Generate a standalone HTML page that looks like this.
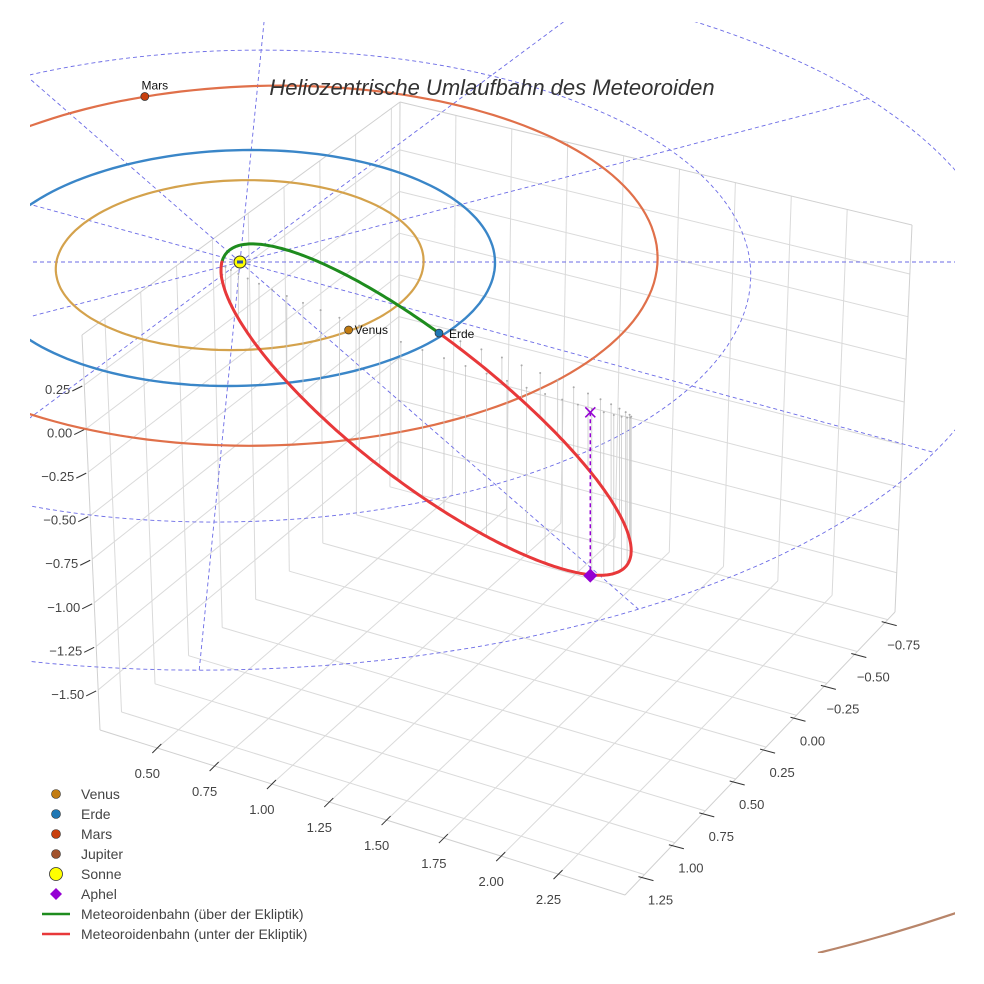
<!DOCTYPE html>
<html><head><meta charset="utf-8"><style>
html,body{margin:0;padding:0;background:#fff;}
svg{display:block;font-family:"Liberation Sans",sans-serif;}
</style></head><body>
<svg id="chart" width="984" height="984" viewBox="0 0 984 984">
<defs><clipPath id="clip"><rect x="30" y="22" width="925" height="931"/></clipPath></defs>
<g id="grid"></g>
<g id="axes"></g>
<g id="scene" clip-path="url(#clip)"></g>
<text x="492" y="95" text-anchor="middle" font-size="22" font-style="italic" fill="#333">Heliozentrische Umlaufbahn des Meteoroiden</text>
<g id="legend" font-size="14" fill="#444">
  <g><circle cx="56" cy="794" r="4.5" fill="#c27c12" stroke="#333" stroke-width="0.6"/><text x="81" y="799">Venus</text></g>
  <g><circle cx="56" cy="814" r="4.5" fill="#1f77b4" stroke="#333" stroke-width="0.6"/><text x="81" y="819">Erde</text></g>
  <g><circle cx="56" cy="834" r="4.5" fill="#c8400e" stroke="#333" stroke-width="0.6"/><text x="81" y="839">Mars</text></g>
  <g><circle cx="56" cy="854" r="4.5" fill="#a0522d" stroke="#333" stroke-width="0.6"/><text x="81" y="859">Jupiter</text></g>
  <g><circle cx="56" cy="874" r="6.5" fill="#ffff00" stroke="#333" stroke-width="0.8"/><text x="81" y="879">Sonne</text></g>
  <g><path d="M56,888 L62,894 L56,900 L50,894 Z" fill="#9400d3"/><text x="81" y="899">Aphel</text></g>
  <g><line x1="42" y1="914" x2="70" y2="914" stroke="#1e8c1e" stroke-width="2.5"/><text x="81" y="919">Meteoroidenbahn (über der Ekliptik)</text></g>
  <g><line x1="42" y1="934" x2="70" y2="934" stroke="#e8383a" stroke-width="2.5"/><text x="81" y="939">Meteoroidenbahn (unter der Ekliptik)</text></g>
</g>
</svg>
<script>
// ---- data ----
const xTicks = [0.5, 0.75, 1.0, 1.25, 1.5, 1.75, 2.0, 2.25];
const yTicks = [-0.75, -0.5, -0.25, 0.0, 0.25, 0.5, 0.75, 1.0, 1.25];
const zTicks = [-1.5, -1.25, -1.0, -0.75, -0.5, -0.25, 0.0, 0.25];
const xRange = [0.25, 2.54];
const yRange = [-0.81, 1.41];
const zRange = [-1.73, 0.537];
const ringRadii = [1, 2, 3];
const radialAngles = [0, 30, 60, 90, 120, 150, 180, 210, 240, 270, 300, 330];
const venusOrbit = [0, 0, 0.72];
const earthOrbit = [0, 0, 1.0];
const marsOrbit = [0.1, 0.09, 1.54];
const venusPos = [0.44, -0.56];
const earthPos = [0.785, -0.585];
const marsPos = [-0.475, 1.52];
const orbitCenter = [0.713, -0.62, -0.408];
const orbitU = [-0.784, 0.62, 0.408];
const orbitV = [0.072, 0.035, 0.408];
const aphel = [1.35, -1.2, -0.95];

const NS = "http://www.w3.org/2000/svg";
function mk(tag, attrs, parent){const e=document.createElementNS(NS,tag);for(const k in attrs)e.setAttribute(k,attrs[k]);parent.appendChild(e);return e;}

function E(X,Y,Z){const f=1-0.051*Y;const sy0=262-118*Y*f;return [240+255*X*f-0.1*(sy0-262), sy0-172*Z];}
const F = {a:[398,480],b:[895,612],c:[625,895],d:[100,730]};
const T = {a:[400,102],b:[912,225],c:[600,460],d:[82,335]};
function bil(Q,u,v){const r=[];for(let i=0;i<2;i++){r.push(Q.a[i]*(1-u)*(1-v)+Q.b[i]*u*(1-v)+Q.c[i]*u*v+Q.d[i]*(1-u)*v);}return r;}
function B(x,y,z){const u=(x-xRange[0])/(xRange[1]-xRange[0]);const v=(y-yRange[0])/(yRange[1]-yRange[0]);const w=(z-zRange[0])/(zRange[1]-zRange[0]);
 const p=bil(F,u,v),q=bil(T,u,v);return [p[0]+(q[0]-p[0])*w,p[1]+(q[1]-p[1])*w];}

const grid=document.getElementById('grid'), axes=document.getElementById('axes'), scene=document.getElementById('scene');
function gl(p,q,name,col,wid){const l=mk('line',{x1:p[0].toFixed(1),y1:p[1].toFixed(1),x2:q[0].toFixed(1),y2:q[1].toFixed(1),stroke:col||'#dadada','stroke-width':wid||1},grid);

return l;}
const [x0,x1]=xRange,[y0,y1]=yRange,[z0,z1]=zRange;
xTicks.forEach(x=>{gl(B(x,y0,z0),B(x,y1,z0),'floor-grid-x');gl(B(x,y0,z0),B(x,y0,z1),'wall-grid-x');});
yTicks.forEach(y=>{gl(B(x0,y,z0),B(x1,y,z0),'floor-grid-y');gl(B(x0,y,z0),B(x0,y,z1),'wall-grid-y');});
zTicks.forEach(z=>{gl(B(x0,y0,z),B(x0,y1,z),'wall-grid-z');gl(B(x0,y0,z),B(x1,y0,z),'wall-grid-z');});
[[B(x0,y1,z0),B(x1,y1,z0)],[B(x1,y1,z0),B(x1,y0,z0)],[B(x0,y1,z0),B(x0,y1,z1)],[B(x0,y1,z1),B(x0,y0,z1)],[B(x0,y0,z1),B(x1,y0,z1)],[B(x1,y0,z0),B(x1,y0,z1)],[B(x0,y0,z0),B(x0,y0,z1)]].forEach(s=>gl(s[0],s[1],'box-edge','#d0d0d0'));

function lab(txt,x,y,anchor,name){const t=mk('text',{x:x.toFixed(1),y:y.toFixed(1),'text-anchor':anchor,'font-size':13,fill:'#444'},axes);t.textContent=txt;

}
function fmt(v){return (v<0?'\u2212':'')+Math.abs(v).toFixed(2);}
xTicks.forEach(x=>{const p=B(x,y1,z0);const l=mk('line',{x1:p[0]-5,y1:p[1]+5,x2:p[0]+4,y2:p[1]-4,stroke:'#333','stroke-width':1},axes);


lab(fmt(x),p[0]-10,p[1]+30,'middle','x-tick-label');});
yTicks.forEach(y=>{const p=B(x1,y,z0);const l=mk('line',{x1:p[0]-6,y1:p[1]+2,x2:p[0]+9,y2:p[1]+6,stroke:'#333','stroke-width':1},axes);


lab(fmt(y),p[0]+16,p[1]+30,'middle','y-tick-label');});
zTicks.forEach(z=>{const p=B(x0,y1,z);const l=mk('line',{x1:p[0]-12,y1:p[1]+6,x2:p[0]-2,y2:p[1]+1,stroke:'#333','stroke-width':1},axes);


lab(fmt(z),p[0]-14,p[1]+9,'end','z-tick-label');});

function poly(pts,attrs,name){const d='M'+pts.map(p=>p[0].toFixed(1)+','+p[1].toFixed(1)).join('L');const e=mk('path',Object.assign({d:d,fill:'none'},attrs),scene);

return e;}
function ring(cx,cy,r){const pts=[];for(let a=0;a<=360;a+=2){const t=a*Math.PI/180;pts.push(E(cx+r*Math.cos(t),cy+r*Math.sin(t),0));}return pts;}
const dashA={stroke:'#6b6be6','stroke-width':0.9,'stroke-dasharray':'4,3'};
ringRadii.forEach(r=>poly(ring(0,0,r),dashA,'ecliptic-ring'));
radialAngles.forEach(a=>{const t=a*Math.PI/180;poly([E(0,0,0),E(3*Math.cos(t),3*Math.sin(t),0)],dashA,'longitude-line');});
poly(ring(venusOrbit[0],venusOrbit[1],venusOrbit[2]),{stroke:'#d4a24c','stroke-width':2.2},'venus-orbit');
poly(ring(earthOrbit[0],earthOrbit[1],earthOrbit[2]),{stroke:'#3a86c8','stroke-width':2.4},'earth-orbit');
poly(ring(marsOrbit[0],marsOrbit[1],marsOrbit[2]),{stroke:'#e0704a','stroke-width':2.2},'mars-orbit');
const jp=mk('path',{d:'M818,953 Q888,936 956,913',fill:'none',stroke:'#b8856a','stroke-width':2.2},scene);



function orb(tdeg){const t=tdeg*Math.PI/180,c=Math.cos(t),s=Math.sin(t);return [0,1,2].map(i=>orbitCenter[i]+orbitU[i]*c+orbitV[i]*s);}
for(let t=0;t<360;t+=6){const p=orb(t);if(p[2]<-0.02){const a=E(p[0],p[1],p[2]),b=E(p[0],p[1],0);
 poly([a,b],{stroke:'#c8c8c8','stroke-width':0.8},'drop-line');
 const d=mk('circle',{cx:b[0].toFixed(1),cy:b[1].toFixed(1),r:1,fill:'#aaa'},scene);
 
 }}
let seg=[],sign=null;
function flush(){if(seg.length>1)poly(seg,{stroke:sign?'#1e8c1e':'#e8383a','stroke-width':3,'stroke-linecap':'round'},sign?'orbit-above-ecliptic':'orbit-below-ecliptic');}
for(let t=0;t<=360;t+=1){const p=orb(t);const s=p[2]>=0;const q=E(p[0],p[1],p[2]);if(sign===null)sign=s;
 if(s!==sign){seg.push(q);flush();seg=[q];sign=s;}else seg.push(q);}
flush();
const ap=E(aphel[0],aphel[1],aphel[2]),ap0=E(aphel[0],aphel[1],0);
poly([ap0,ap],{stroke:'#9400d3','stroke-width':1.5,'stroke-dasharray':'4,3'},'aphel-drop-line');
poly([[ap0[0]-5,ap0[1]-5],[ap0[0]+5,ap0[1]+5]],{stroke:'#9400d3','stroke-width':1.5},'aphel-projection-marker');
poly([[ap0[0]-5,ap0[1]+5],[ap0[0]+5,ap0[1]-5]],{stroke:'#9400d3','stroke-width':1.5},'aphel-projection-marker');
const dm=mk('path',{d:`M${ap[0]},${ap[1]-7}L${ap[0]+7},${ap[1]}L${ap[0]},${ap[1]+7}L${ap[0]-7},${ap[1]}Z`,fill:'#9400d3'},scene);


function planet(pos,col,name,label,dx){const p=E(pos[0],pos[1],0);const c=mk('circle',{cx:p[0].toFixed(1),cy:p[1].toFixed(1),r:4,fill:col,stroke:'#333','stroke-width':0.7},scene);


const t=mk('text',{x:(p[0]+dx[0]).toFixed(1),y:(p[1]+dx[1]).toFixed(1),'font-size':12,fill:'#111','text-anchor':dx[2]},scene);t.textContent=label;

}
planet(venusPos,'#c27c12','venus-marker','Venus',[6,4,'start']);
planet(earthPos,'#1f77b4','earth-marker','Erde',[10,5,'start']);
planet(marsPos,'#c8400e','mars-marker','Mars',[10,-7,'middle']);
const sp=E(0,0,0);
const sun=mk('circle',{cx:sp[0],cy:sp[1],r:6,fill:'#ffff00',stroke:'#333','stroke-width':1},scene);


const sc=mk('rect',{x:sp[0]-3,y:sp[1]-1.5,width:6,height:3,fill:'#3050a0'},scene);


</script>
</body></html>
